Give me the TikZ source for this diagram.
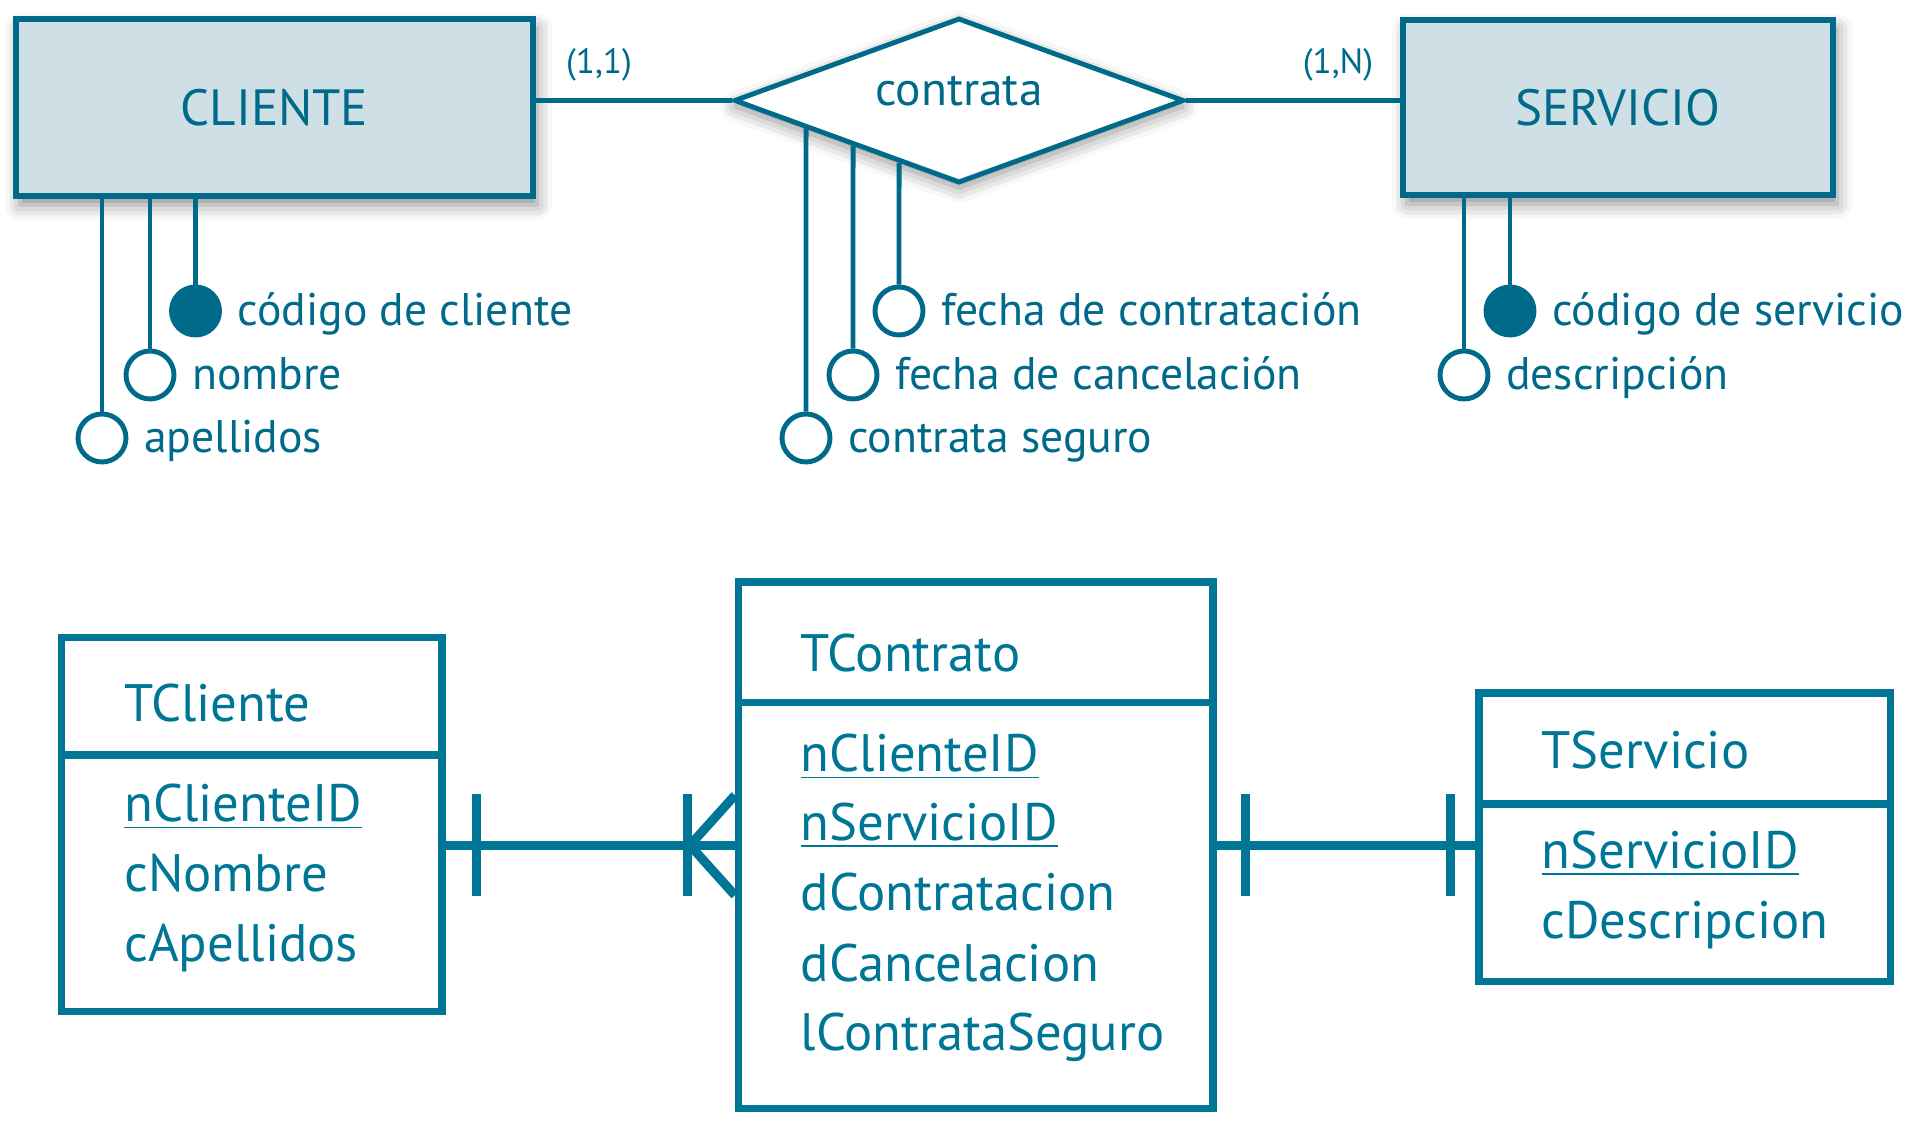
\documentclass[tikz,border=0pt]{standalone}
\usepackage{fontspec}
\setmainfont{PT Sans}
\usetikzlibrary{shapes.geometric,positioning,calc,shadows.blur}
\definecolor{erteal}{HTML}{006A8A}
\definecolor{erfill}{HTML}{CEDFE5}
\definecolor{tabteal}{HTML}{007697}

\begin{document}
\begin{tikzpicture}[
    ent/.style={draw=erteal, line width=1.6pt, fill=erfill, minimum height=1.77cm, inner sep=0pt, text=erteal, font=\fontsize{14.5}{17}\selectfont,
        blur shadow={shadow xshift=0.04cm, shadow yshift=-0.09cm, shadow blur radius=0.15cm, shadow opacity=45}},
    rel/.style={diamond, draw=erteal, line width=1.4pt, fill=white, aspect=2.7, minimum width=4.5cm, minimum height=1.65cm, inner sep=0pt, text=erteal,
        font=\fontsize{13.5}{16}\selectfont, text height=9pt, text depth=6pt,
        blur shadow={shadow xshift=0cm, shadow yshift=-0.06cm, shadow blur radius=0.15cm, shadow opacity=45}},
    attr/.style={circle, draw=erteal, line width=1.4pt, fill=white, minimum size=0.48cm, inner sep=0pt},
    keyattr/.style={attr, fill=erteal},
    lbl/.style={text=erteal, font=\fontsize{13}{15}\selectfont, inner sep=0pt, text height=9.5pt, text depth=1.3pt},
    card/.style={text=erteal, font=\fontsize{10}{12}\selectfont},
    link/.style={erteal, line width=1.4pt},
    tab/.style={draw=tabteal, line width=2.1pt, inner sep=0pt},
    fld/.style={text=tabteal, font=\fontsize{15}{18}\selectfont, anchor=base west, inner sep=0pt},
    fk/.style={tabteal, line width=2.6pt}
]
\useasboundingbox (0,0) rectangle (19.10,-11.24);

% modelo entidad-relacion
\node[ent, minimum width=5.17cm] (cliente) at (2.745,-1.075) {CLIENTE};
\node[rel] (contrata) at (9.59,-1.005) {contrata};
\node[ent, minimum width=4.30cm, minimum height=1.75cm] (servicio) at (16.18,-1.075) {SERVICIO};

\draw[link] (contrata.west) -- (contrata.west -| cliente.east);
\draw[link] (contrata.east) -- (contrata.east -| servicio.west);
\node[card] (card11) at (5.99,-0.65) {(1,1)};
\node[card] (card1n) at (13.38,-0.65) {(1,N)};

% atributos
\node[keyattr] (kcli) at (1.955,-3.11) {};
\node[attr] (nom) at (1.50,-3.75) {};
\node[attr] (ape) at (1.02,-4.38) {};
\draw[link] (kcli) -- (kcli |- cliente.south);
\draw[link] (nom) -- (nom |- cliente.south);
\draw[link] (ape) -- (ape |- cliente.south);
\node[lbl, right=0.15cm of kcli] (kclit) {código de cliente};
\node[lbl, right=0.15cm of nom] (nomt) {nombre};
\node[lbl, right=0.15cm of ape] (apet) {apellidos};

\node[attr] (fcon) at (8.99,-3.11) {};
\node[attr] (fcan) at (8.53,-3.75) {};
\node[attr] (cseg) at (8.06,-4.38) {};
\draw[link] (fcon) -- (intersection of fcon--fcon.north and contrata.west--contrata.south);
\draw[link] (fcan) -- (intersection of fcan--fcan.north and contrata.west--contrata.south);
\draw[link] (cseg) -- (intersection of cseg--cseg.north and contrata.west--contrata.south);
\node[lbl, right=0.15cm of fcon] (fcont) {fecha de contratación};
\node[lbl, right=0.15cm of fcan] (fcant) {fecha de cancelación};
\node[lbl, right=0.15cm of cseg] (csegt) {contrata seguro};

\node[keyattr] (kser) at (15.10,-3.11) {};
\node[attr] (des) at (14.64,-3.75) {};
\draw[link] (kser) -- (kser |- servicio.south);
\draw[link] (des) -- (des |- servicio.south);
\node[lbl, right=0.15cm of kser] (ksert) {código de servicio};
\node[lbl, right=0.15cm of des] (dest) {descripción};

% modelo relacional
\node[tab, minimum width=3.805cm, minimum height=3.74cm] (tcliente) at (2.518,-8.247) {};
\draw[tab] (tcliente.west |- 0,-7.55) -- (tcliente.east |- 0,-7.55);
\node[fld] (tclin) at (1.236,-7.22) {TCliente};
\node[fld] (tcli1) at (1.236,-8.217) {\underline{nClienteID}};
\node[fld] (tcli2) at (1.236,-8.917) {cNombre};
\node[fld] (tcli3) at (1.236,-9.617) {cApellidos};

\node[tab, minimum width=4.744cm, minimum height=5.266cm] (tcontrato) at (9.758,-8.453) {};
\draw[tab] (tcontrato.west |- 0,-7.025) -- (tcontrato.east |- 0,-7.025);
\node[fld] (tcon) at (8.00,-6.715) {TContrato};
\node[fld] (tcon1) at (8.00,-7.72) {\underline{nClienteID}};
\node[fld] (tcon2) at (8.00,-8.406) {\underline{nServicioID}};
\node[fld] (tcon3) at (8.00,-9.107) {dContratacion};
\node[fld] (tcon4) at (8.00,-9.816) {dCancelacion};
\node[fld] (tcon5) at (8.00,-10.51) {lContrataSeguro};

\node[tab, minimum width=4.116cm, minimum height=2.886cm] (tservicio) at (16.848,-8.373) {};
\draw[tab] (tservicio.west |- 0,-8.04) -- (tservicio.east |- 0,-8.04);
\node[fld] (tser) at (15.41,-7.686) {TServicio};
\node[fld] (tser1) at (15.41,-8.686) {\underline{nServicioID}};
\node[fld] (tser2) at (15.41,-9.384) {cDescripcion};

% claves foraneas
\draw[fk] (tcliente.east |- tcontrato.west) -- (tcontrato.west);
\draw[fk] ($(tcliente.east |- tcontrato.west)+(0.31,0.51)$) -- ++(0,-1.02);
\draw[fk] ($(tcontrato.west)+(-0.47,0.51)$) -- ++(0,-1.02);
\draw[fk] ($(tcontrato.west)+(0,0.5)$) -- ($(tcontrato.west)+(-0.45,0)$) -- ($(tcontrato.west)+(0,-0.5)$);
\draw[fk] (tcontrato.east) -- (tcontrato.east -| tservicio.west);
\draw[fk] ($(tcontrato.east)+(0.29,0.51)$) -- ++(0,-1.02);
\draw[fk] ($(tcontrato.east -| tservicio.west)+(-0.245,0.51)$) -- ++(0,-1.02);
\end{tikzpicture}
\end{document}
